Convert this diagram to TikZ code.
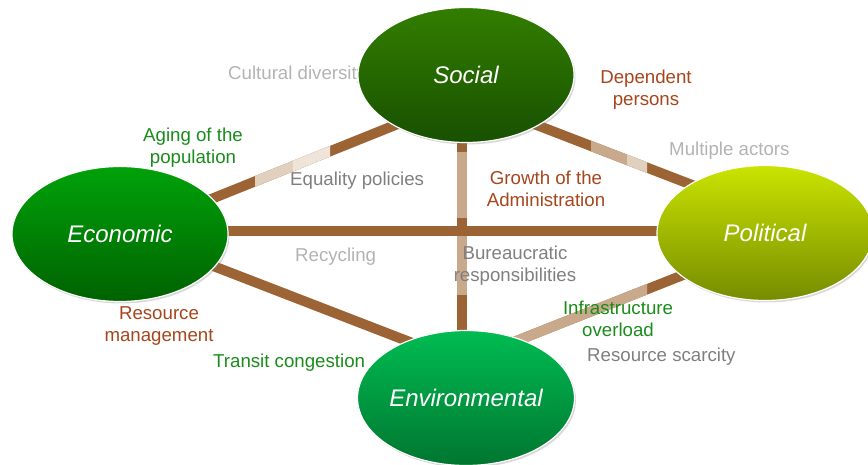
\documentclass[tikz,border=0pt]{standalone}
\usepackage{fontspec}
\setmainfont{Liberation Sans}
\usetikzlibrary{shapes.geometric,shadows}
\pgfdeclarelayer{bg}
\pgfsetlayers{bg,main}
\definecolor{linkbrown}{HTML}{9C6434}
\definecolor{linktan}{HTML}{C9A98B}
\definecolor{linkpale}{HTML}{E2D0BE}
\definecolor{linkpaler}{HTML}{EEE4DA}
\definecolor{lblgreen}{HTML}{1A8C1A}
\definecolor{lblbrown}{HTML}{A5461C}
\definecolor{lblgray}{HTML}{7F7F7F}
\definecolor{lbllight}{HTML}{B3B3B3}
\tikzset{
  sphere/.style={ellipse, minimum width=216pt, minimum height=135pt, draw=white,
    line width=1.2pt, drop shadow={opacity=0.3, shadow xshift=1.5pt, shadow yshift=-2pt},
    font=\fontsize{24}{28}\selectfont\itshape, text=white, inner sep=0pt},
  link/.style={draw=linkbrown, line width=10pt, shorten <=-8pt, shorten >=-8pt},
  lbl/.style={inner sep=0pt, font=\fontsize{18.67}{22}\selectfont, align=center},
}
\begin{document}
\begin{tikzpicture}[x=1pt,y=-1pt]
\useasboundingbox (0,0) rectangle (868,465);
\clip (0,0) rectangle (868,465);
% ellipses
\node[sphere, top color={rgb,255:red,50;green,126;blue,0}, bottom color={rgb,255:red,24;green,80;blue,0}] (soc) at (466,75) {Social};
\node[sphere, top color={rgb,255:red,0;green,162;blue,10}, bottom color={rgb,255:red,0;green,98;blue,0}] (eco) at (120,234) {Economic};
\node[sphere, top color={rgb,255:red,202;green,228;blue,0}, bottom color={rgb,255:red,118;green,140;blue,0}] (pol) at (765,233) {Political};
\node[sphere, top color={rgb,255:red,0;green,188;blue,82}, bottom color={rgb,255:red,0;green,118;blue,48}] (env) at (466,398) {Environmental};
% connectors behind
\begin{pgfonlayer}{bg}
\draw[link] ([xshift=-4pt]soc.center) -- ([xshift=-4pt]env.center);
\begin{scope}\clip (440,153) rectangle (485,218);
\draw[link, draw=linktan] ([xshift=-4pt]soc.center) -- ([xshift=-4pt]env.center);\end{scope}
\begin{scope}\clip (440,237) rectangle (485,295);
\draw[link, draw=linktan] ([xshift=-4pt]soc.center) -- ([xshift=-4pt]env.center);\end{scope}
\draw[link] (soc.215) -- (eco.21);
\draw[link] (soc.325) -- (pol.147);
\draw[link] ([yshift=3pt]eco.center) -- ([yshift=2pt]pol.center);
\draw[link] (eco.341) -- (env.136);
\draw[link] (pol.207) -- (env.47);
% faded portions
\begin{scope}\clip (255,150) rectangle (293,195);
\draw[link, draw=linkpale] (soc.215) -- (eco.21);\end{scope}
\begin{scope}\clip (293,140) rectangle (330,195);
\draw[link, draw=linkpaler] (soc.215) -- (eco.21);\end{scope}
\begin{scope}\clip (591,140) rectangle (627,185);
\draw[link, draw=linktan] (soc.325) -- (pol.147);\end{scope}
\begin{scope}\clip (627,140) rectangle (647,190);
\draw[link, draw=linkpale] (soc.325) -- (pol.147);\end{scope}
\begin{scope}\clip (480,270) rectangle (647,360);
\draw[link, draw=linktan] (pol.207) -- (env.47);\end{scope}
\node[lbl, text=lbllight, anchor=west] (cult) at (228,75) {Cultural diversity};
\end{pgfonlayer}
% labels
\node[lbl, text=lblgreen] (aging) at (193,148) {Aging of the\\population};
\node[lbl, text=lblgray, anchor=west] (equal) at (290,181) {Equality policies};
\node[lbl, text=lblbrown] (depend) at (646,90) {Dependent\\persons};
\node[lbl, text=lbllight, anchor=west] (multi) at (669,151) {Multiple actors};
\node[lbl, text=lblbrown] (growth) at (546,189) {Growth of the\\Administration};
\node[lbl, text=lbllight, anchor=west] (recyc) at (295,257) {Recycling};
\node[lbl, text=lblgray] (bureau) at (515,266) {Bureaucratic\\responsibilities};
\node[lbl, text=lblbrown] (resmgmt) at (159,326) {Resource\\management};
\node[lbl, text=lblgreen, anchor=west] (transit) at (213,363) {Transit congestion};
\node[lbl, text=lblgreen] (infra) at (618,319) {Infrastructure\\overload};
\node[lbl, text=lblgray, anchor=west] (scarce) at (587,357) {Resource scarcity};
\end{tikzpicture}
\end{document}
